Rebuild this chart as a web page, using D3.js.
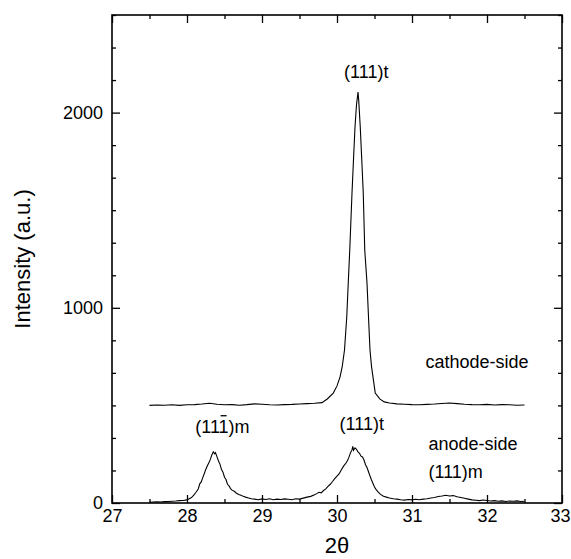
<!DOCTYPE html>
<html>
<head>
<meta charset="utf-8">
<script src="https://cdn.jsdelivr.net/npm/d3@7"></script>
<style>
  body { margin: 0; background: #fff; }
  svg text { font-family: "Liberation Sans", Arial, sans-serif; fill: #000; }
</style>
</head>
<body>
<svg id="xrd-plot" width="571" height="559"></svg>
<script>
// data: [2theta, intensity]
const cathodeSide = [
  [27.5, 500], [27.6, 502], [27.7, 501], [27.8, 503], [27.9, 500], [28.0, 503],
  [28.1, 504], [28.2, 507], [28.3, 511], [28.4, 506], [28.5, 503], [28.6, 504],
  [28.7, 501], [28.8, 504], [28.9, 508], [29.0, 506], [29.1, 503], [29.2, 502],
  [29.3, 504], [29.4, 505], [29.5, 507], [29.6, 509], [29.7, 511], [29.8, 514],
  [29.87, 533], [29.95, 563], [30.0, 600], [30.04, 645], [30.07, 700], [30.1, 784],
  [30.13, 953], [30.15, 1127], [30.17, 1296], [30.2, 1588], [30.22, 1760],
  [30.24, 1926], [30.26, 2040], [30.28, 2105], [30.29, 2060], [30.31, 1926],
  [30.33, 1760], [30.35, 1588], [30.37, 1296], [30.4, 1127], [30.42, 953],
  [30.44, 784], [30.46, 700], [30.48, 645], [30.51, 563], [30.57, 533], [30.63, 518],
  [30.7, 512], [30.8, 508], [30.9, 506], [31.0, 504], [31.1, 503], [31.2, 505],
  [31.3, 507], [31.4, 510], [31.5, 512], [31.6, 509], [31.7, 506], [31.8, 504],
  [31.9, 503], [32.0, 505], [32.1, 502], [32.2, 504], [32.3, 503], [32.4, 501],
  [32.5, 502]
];

const anodeSide = [
  [27.5, 4], [27.55, 5], [27.6, 6], [27.65, 5], [27.7, 7], [27.75, 8], [27.8, 9],
  [27.85, 10], [27.9, 12], [27.95, 13], [28.0, 16], [28.03, 22], [28.06, 28],
  [28.09, 40], [28.12, 55], [28.15, 72], [28.17, 98], [28.19, 108], [28.21, 130],
  [28.23, 150], [28.25, 172], [28.27, 190], [28.29, 205], [28.31, 222], [28.33, 245],
  [28.35, 262], [28.37, 252], [28.38, 258], [28.4, 236], [28.42, 215], [28.44, 198],
  [28.46, 172], [28.48, 158], [28.5, 132], [28.52, 120], [28.54, 96], [28.56, 88],
  [28.58, 74], [28.6, 66], [28.63, 60], [28.66, 50], [28.69, 44], [28.72, 40],
  [28.75, 34], [28.78, 30], [28.82, 26], [28.86, 22], [28.9, 20], [28.95, 17],
  [29.0, 21], [29.05, 18], [29.1, 22], [29.15, 17], [29.2, 20], [29.25, 18],
  [29.3, 21], [29.35, 19], [29.4, 17], [29.45, 22], [29.5, 20], [29.55, 25],
  [29.6, 30], [29.65, 34], [29.7, 42], [29.73, 48], [29.76, 55], [29.79, 52],
  [29.82, 64], [29.85, 72], [29.88, 85], [29.91, 96], [29.94, 110], [29.97, 125],
  [30.0, 138], [30.03, 150], [30.06, 172], [30.09, 190], [30.12, 205], [30.14, 218],
  [30.16, 235], [30.18, 258], [30.2, 272], [30.21, 290], [30.22, 270], [30.24, 282],
  [30.26, 275], [30.28, 262], [30.3, 255], [30.32, 240], [30.34, 236], [30.36, 220],
  [30.38, 196], [30.4, 182], [30.42, 160], [30.44, 138], [30.46, 118], [30.48, 100],
  [30.5, 82], [30.52, 70], [30.55, 56], [30.58, 44], [30.62, 35], [30.66, 30],
  [30.7, 26], [30.75, 22], [30.8, 20], [30.85, 17], [30.9, 15], [30.95, 18],
  [31.0, 16], [31.05, 19], [31.1, 17], [31.15, 20], [31.2, 22], [31.25, 26],
  [31.3, 28], [31.35, 33], [31.4, 36], [31.45, 40], [31.5, 36], [31.55, 38],
  [31.6, 32], [31.65, 28], [31.7, 24], [31.75, 20], [31.8, 16], [31.85, 14],
  [31.9, 12], [31.95, 15], [32.0, 13], [32.05, 10], [32.1, 12], [32.15, 9],
  [32.2, 11], [32.25, 8], [32.3, 10], [32.35, 9], [32.4, 11], [32.45, 8], [32.5, 9]
];

const xTickValues = [27, 28, 29, 30, 31, 32, 33];
const yTickValues = [0, 1000, 2000];

// set svg, plot size and margins
const svg = d3.select("#xrd-plot");
const width = +svg.attr("width");
const height = +svg.attr("height");
const margin = { top: 15, right: 9, bottom: 56, left: 112 };
const chartWidth = width - margin.left - margin.right;
const chartHeight = height - margin.top - margin.bottom;

const g = svg.append("g")
  .attr("transform", `translate(${margin.left},${margin.top})`);

const x = d3.scaleLinear().domain([27, 33]).range([0, chartWidth]);
const y = d3.scaleLinear().domain([0, 2500]).range([chartHeight, 0]);

const xMinor = d3.range(27.5, 33, 1);
const yMinor = d3.range(0, 2501, 1000 / 6).filter((v) => Math.abs(v % 1000) > 1 && Math.abs(v % 1000 - 1000) > 1);

// axes, ticks pointing inward
function styleAxis(sel) {
  sel.select(".domain").remove();
  sel.selectAll(".tick line").attr("stroke", "#000").attr("stroke-width", 1.3);
  sel.selectAll(".tick text").attr("font-size", 18).attr("fill", "#000")
    .style("font-family", '"Liberation Sans", Arial, sans-serif');
}

const xAxisG = g.append("g")
  .attr("transform", `translate(0,${chartHeight})`)
  .call(d3.axisBottom(x).tickValues(xTickValues).tickFormat(d3.format("d"))
    .tickSize(-8).tickPadding(6))
  .call(styleAxis);
// keep the last label inside the window
xAxisG.selectAll(".tick text").filter((d) => d === 33).attr("dx", -2);

g.append("g")
  .attr("transform", `translate(0,${chartHeight})`)
  .call(d3.axisBottom(x).tickValues(xMinor).tickFormat("").tickSize(-4))
  .call(styleAxis);
g.append("g")
  .call(d3.axisTop(x).tickValues(xTickValues).tickFormat("").tickSize(-8))
  .call(styleAxis);
g.append("g")
  .call(d3.axisTop(x).tickValues(xMinor).tickFormat("").tickSize(-4))
  .call(styleAxis);

g.append("g")
  .call(d3.axisLeft(y).tickValues(yTickValues).tickFormat(d3.format("d"))
    .tickSize(-8).tickPadding(9))
  .call(styleAxis);
g.append("g")
  .call(d3.axisLeft(y).tickValues(yMinor).tickFormat("").tickSize(-4))
  .call(styleAxis);
g.append("g")
  .attr("transform", `translate(${chartWidth},0)`)
  .call(d3.axisRight(y).tickValues(yTickValues).tickFormat("").tickSize(-8))
  .call(styleAxis);
g.append("g")
  .attr("transform", `translate(${chartWidth},0)`)
  .call(d3.axisRight(y).tickValues(yMinor).tickFormat("").tickSize(-4))
  .call(styleAxis);

// frame
g.append("rect")
  .attr("width", chartWidth)
  .attr("height", chartHeight)
  .attr("fill", "none")
  .attr("stroke", "#000")
  .attr("stroke-width", 1.6);

// curves
const line = d3.line()
  .x((d) => x(d[0]))
  .y((d) => y(d[1]));

[cathodeSide, anodeSide].forEach((series) => {
  g.append("path")
    .datum(series)
    .attr("fill", "none")
    .attr("stroke", "#000")
    .attr("stroke-width", 1.1)
    .attr("d", line);
});

// annotations
function label(text, xv, yv, anchor) {
  return g.append("text")
    .attr("x", x(xv))
    .attr("y", y(yv))
    .attr("text-anchor", anchor || "start")
    .attr("font-size", 18)
    .text(text);
}

label("(111)t", 30.39, 2177, "middle");
label("cathode-side", 31.18, 692);
label("anode-side", 31.22, 272);
label("(111)m", 31.22, 128);
label("(111)t", 30.33, 375, "middle");
const mLabel = label("(111)m", 28.11, 360);

// bar over the third "1" of (11-1)m
const node = mLabel.node();
const barStart = node.getStartPositionOfChar(3).x;
const barEnd = node.getEndPositionOfChar(3).x;
g.append("line")
  .attr("x1", barStart + 2)
  .attr("x2", barEnd - 2)
  .attr("y1", y(360) - 17)
  .attr("y2", y(360) - 17)
  .attr("stroke", "#000")
  .attr("stroke-width", 1.3);

// axis titles
svg.append("text")
  .attr("transform", `translate(30,${margin.top + chartHeight / 2}) rotate(-90)`)
  .attr("text-anchor", "middle")
  .attr("font-size", 22)
  .text("Intensity (a.u.)");

svg.append("text")
  .attr("x", margin.left + chartWidth / 2)
  .attr("y", 553)
  .attr("text-anchor", "middle")
  .attr("font-size", 22)
  .text("2θ");
</script>
</body>
</html>
